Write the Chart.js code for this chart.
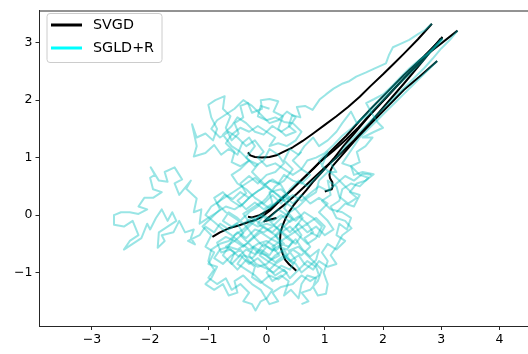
<!DOCTYPE html>
<html><head><meta charset="utf-8">
<script src="https://cdn.jsdelivr.net/npm/chart.js@4/dist/chart.umd.min.js"></script>
<style>html,body{margin:0;padding:0;background:#fff;overflow:hidden}#wrap{width:528px;height:354px;position:relative}</style>
</head><body><div id="wrap"><canvas id="c" width="528" height="354"></canvas></div>
<script>
// ---- data ----
const seriesNames = ["SVGD", "SGLD+R"];
const xTicks = [-3, -2, -1, 0, 1, 2, 3, 4];
const yTicks = [-1, 0, 1, 2, 3];

// SVGD particle trajectories
const svgdA = [[-0.32,1.09],[-0.28,1.04],[-0.2,1.01],[-0.08,1.0],[0.05,1.01],[0.17,1.04],[0.27,1.09],[0.45,1.18],[0.62,1.29],[0.8,1.42],[1.0,1.57],[1.2,1.72],[1.4,1.88],[1.6,2.06],[1.78,2.24],[2.0,2.45],[2.18,2.63],[2.36,2.81],[2.6,3.06],[2.84,3.33]];
const svgdB = [[-0.93,-0.38],[-0.8,-0.3],[-0.65,-0.23],[-0.48,-0.18],[-0.31,-0.12],[-0.18,-0.08],[-0.08,-0.03],[0.06,0.08],[0.21,0.23],[0.42,0.43],[0.62,0.63],[0.8,0.8],[0.97,0.98],[1.17,1.18],[1.37,1.38],[1.58,1.62],[1.78,1.84],[2.07,2.14],[2.36,2.44],[2.7,2.76],[3.02,3.08]];
const svgdC = [[-0.32,-0.03],[-0.25,-0.04],[-0.12,0.0],[0.04,0.09],[0.25,0.28],[0.45,0.46],[0.68,0.69],[0.91,0.92],[1.15,1.12],[1.37,1.32],[1.58,1.53],[1.78,1.75],[2.07,2.06],[2.36,2.38],[2.7,2.73],[2.99,3.07]];
const svgdD = [[0.17,-0.05],[0.05,-0.08],[-0.04,-0.11],[0.0,-0.07],[0.06,-0.02],[0.18,0.08],[0.33,0.2],[0.52,0.37],[0.74,0.58],[0.97,0.8],[1.2,1.0],[1.5,1.3],[1.78,1.61],[2.07,1.95],[2.36,2.29],[2.7,2.7],[3.02,3.1]];
const svgdE = [[0.51,-0.97],[0.46,-0.92],[0.39,-0.86],[0.32,-0.78],[0.28,-0.68],[0.24,-0.56],[0.23,-0.46],[0.24,-0.3],[0.28,-0.17],[0.33,-0.05],[0.39,0.06],[0.47,0.18],[0.56,0.29],[0.68,0.43],[0.79,0.57],[0.97,0.77],[1.15,0.98],[1.32,1.2],[1.55,1.47],[1.78,1.75],[2.1,2.1],[2.4,2.42],[2.8,2.83],[3.28,3.21]];
const svgdF = [[1.0,0.41],[1.06,0.43],[1.12,0.45],[1.14,0.51],[1.13,0.57],[1.09,0.64],[1.08,0.7],[1.1,0.78],[1.14,0.86],[1.26,1.0],[1.5,1.28],[1.78,1.58],[2.07,1.88],[2.36,2.18],[2.65,2.43],[2.93,2.68]];

// SGLD+R chains
const sgld1 = [[2.84,3.33],[2.72,3.22],[2.6,3.15],[2.45,3.05],[2.3,2.98],[2.17,2.92],[2.1,2.78],[2.05,2.64],[1.85,2.55],[1.7,2.48],[1.54,2.41],[1.42,2.33],[1.31,2.29],[1.15,2.2],[1.02,2.1],[0.91,2.01],[0.79,1.83],[0.66,1.9],[0.52,1.88],[0.58,1.7],[0.44,1.74],[0.38,1.55],[0.5,1.45],[0.33,1.38],[0.2,1.5],[0.28,1.72],[0.12,1.8],[0.2,1.98],[0.05,2.02],[-0.1,2.0],[-0.08,1.85],[-0.25,1.78],[-0.32,1.95],[-0.45,1.9],[-0.4,1.7],[-0.55,1.6],[-0.48,1.42],[-0.6,1.3],[-0.7,1.52],[-0.62,1.72],[-0.75,1.85],[-0.72,2.07],[-0.88,2.0],[-1.0,1.92],[-0.95,1.7],[-0.85,1.5],[-0.92,1.3],[-1.05,1.42],[-1.2,1.35],[-1.28,1.58],[-1.2,1.2],[-1.25,1.02],[-1.05,1.08],[-0.9,1.22],[-0.78,1.05],[-0.65,1.15],[-0.5,1.05],[-0.42,1.25],[-0.3,1.35],[-0.2,1.2],[-0.35,1.0],[-0.2,0.85],[-0.05,0.95],[0.05,1.15],[0.2,1.05],[0.3,0.9],[0.15,0.75],[0.0,0.7],[-0.15,0.55],[-0.3,0.68],[-0.45,0.55],[-0.35,0.38],[-0.5,0.25],[-0.35,0.1],[-0.2,0.22],[-0.05,0.1],[0.1,0.2],[0.05,0.4],[0.25,0.45],[0.4,0.3],[0.3,0.12],[0.45,-0.05],[0.3,-0.2],[0.15,-0.35],[0.3,-0.5],[0.15,-0.62],[0.0,-0.55],[-0.12,-0.7],[0.05,-0.82],[0.2,-0.9],[0.35,-1.0],[0.2,-1.12],[0.05,-1.05],[-0.1,-1.18],[-0.25,-1.08],[-0.2,-0.9],[-0.35,-0.78],[-0.5,-0.95],[-0.62,-0.82],[-0.55,-0.65],[-0.7,-0.55],[-0.55,-0.45],[-0.4,-0.55],[-0.25,-0.42],[-0.1,-0.3],[0.05,-0.4],[0.2,-0.48],[0.38,-0.55],[0.5,-0.42],[0.62,-0.6],[0.75,-0.72],[0.9,-0.6],[0.85,-0.78],[0.72,-0.9],[0.6,-1.0],[0.5,-0.85],[0.35,-0.75],[0.25,-0.6]];
const sgld2 = [[3.02,3.08],[2.9,2.95],[2.75,2.8],[2.6,2.68],[2.45,2.55],[2.3,2.4],[2.17,2.26],[2.0,2.1],[1.85,2.02],[1.71,1.95],[1.8,1.78],[1.91,1.61],[2.0,1.52],[1.85,1.45],[1.65,1.35],[1.82,1.35],[1.7,1.2],[1.55,1.1],[1.6,0.92],[1.45,0.85],[1.5,0.7],[1.65,0.75],[1.84,0.71],[1.7,0.6],[1.55,0.55],[1.43,0.4],[1.55,0.3],[1.4,0.2],[1.25,0.32],[1.2,0.5],[1.05,0.6],[1.1,0.35],[0.95,0.25],[1.1,0.1],[1.3,0.05],[1.45,-0.05],[1.38,-0.25],[1.25,-0.15],[1.2,-0.35],[1.35,-0.45],[1.2,-0.6],[1.05,-0.5],[0.95,-0.65],[1.05,-0.8],[0.98,-1.0],[1.05,-1.2],[1.02,-1.37],[0.88,-1.4],[0.8,-1.25],[0.85,-1.1],[0.7,-1.05],[0.6,-1.2],[0.55,-1.45],[0.42,-1.3],[0.3,-1.4],[0.38,-1.15],[0.25,-1.05],[0.1,-1.15],[0.0,-1.0],[0.15,-0.85],[0.3,-0.75],[0.45,-0.6],[0.6,-0.7],[0.75,-0.55],[0.65,-0.4],[0.8,-0.3],[0.7,-0.15],[0.55,-0.25],[0.4,-0.35],[0.25,-0.45],[0.1,-0.55],[0.22,-0.7],[0.08,-0.78],[-0.08,-0.65],[-0.22,-0.55],[-0.3,-0.7],[-0.18,-0.85],[-0.02,-0.92],[0.12,-1.0],[0.25,-0.88],[0.4,-0.95],[0.5,-0.78],[0.38,-0.62],[0.55,-0.55],[0.68,-0.68],[0.82,-0.82],[0.95,-0.95],[0.88,-1.15],[0.75,-1.3],[0.6,-1.35],[0.72,-1.5],[0.6,-1.55]];
const sgld3 = [[3.03,3.06],[2.88,2.9],[2.7,2.75],[2.55,2.6],[2.4,2.45],[2.25,2.3],[2.05,2.1],[1.88,1.95],[1.75,1.8],[1.6,1.65],[1.45,1.5],[1.3,1.38],[1.15,1.22],[1.0,1.08],[0.85,1.0],[0.7,0.95],[0.6,0.8],[0.75,0.7],[0.6,0.55],[0.45,0.6],[0.3,0.7],[0.2,0.55],[0.05,0.6],[-0.1,0.45],[-0.25,0.35],[-0.4,0.2],[-0.55,0.1],[-0.7,0.15],[-0.85,0.05],[-1.0,-0.05],[-1.15,-0.15],[-1.12,0.1],[-1.25,0.05],[-1.2,0.29],[-1.38,0.46],[-1.3,0.6],[-1.5,0.35],[-1.58,0.55],[-1.45,0.62],[-1.5,0.7],[-1.58,0.83],[-1.75,0.75],[-1.7,0.58],[-1.85,0.6],[-1.99,0.83],[-1.92,0.7],[-2.0,0.65],[-1.95,0.45],[-1.8,0.4],[-1.95,0.3],[-2.1,0.3],[-2.2,0.15],[-2.05,0.1],[-2.2,0.02],[-2.35,0.05],[-2.5,0.05],[-2.62,0.0],[-2.62,-0.17],[-2.45,-0.2],[-2.3,-0.1],[-2.2,-0.35],[-2.35,-0.45],[-2.45,-0.6],[-2.3,-0.5],[-2.15,-0.4],[-2.05,-0.15],[-2.0,-0.25],[-1.9,-0.05],[-1.8,0.1],[-1.7,-0.1],[-1.62,0.05],[-1.55,-0.1],[-1.7,-0.2],[-1.85,-0.3],[-1.87,-0.57],[-1.75,-0.45],[-1.8,-0.35],[-1.6,-0.3],[-1.5,-0.1],[-1.45,-0.2],[-1.4,-0.3],[-1.25,-0.25],[-1.3,-0.4],[-1.23,-0.51],[-1.35,-0.45],[-1.15,-0.35],[-1.05,-0.2],[-0.9,-0.3],[-0.8,-0.15],[-0.65,-0.25],[-0.5,-0.15],[-0.4,-0.32],[-0.55,-0.45],[-0.7,-0.38],[-0.85,-0.48],[-0.78,-0.65],[-0.62,-0.6],[-0.48,-0.72],[-0.35,-0.6],[-0.2,-0.68],[-0.05,-0.5],[0.1,-0.62],[0.25,-0.5],[0.15,-0.35],[0.0,-0.25],[-0.15,-0.15],[-0.05,0.0],[0.1,-0.1],[0.25,0.0],[0.4,-0.12],[0.55,-0.02],[0.7,-0.15],[0.85,-0.05],[1.0,-0.2],[0.9,-0.38],[0.75,-0.3]];
const sgld4 = [[3.28,3.21],[3.15,3.05],[3.0,2.9],[2.85,2.72],[2.7,2.55],[2.55,2.4],[2.4,2.25],[2.25,2.1],[2.1,1.95],[1.95,1.8],[1.8,1.65],[1.65,1.5],[1.5,1.35],[1.35,1.2],[1.25,1.05],[1.1,0.9],[1.2,0.75],[1.05,0.75],[0.9,0.6],[0.85,0.4],[0.7,0.3],[0.55,0.15],[0.4,0.05],[0.25,-0.05],[0.1,-0.2],[-0.05,-0.3],[-0.2,-0.25],[-0.35,-0.4],[-0.5,-0.3],[-0.65,-0.45],[-0.8,-0.5],[-0.95,-0.6],[-1.0,-0.8],[-0.9,-0.95],[-1.0,-1.09],[-0.85,-1.2],[-0.7,-1.1],[-0.6,-1.3],[-0.45,-1.2],[-0.3,-1.35],[-0.4,-1.5],[-0.25,-1.55],[-0.19,-1.66],[-0.1,-1.5],[0.0,-1.45],[0.1,-1.3],[-0.05,-1.2],[-0.2,-1.05],[-0.35,-0.95],[-0.5,-0.85],[-0.4,-0.7],[-0.25,-0.75],[-0.1,-0.6],[0.05,-0.7],[0.15,-0.55],[0.0,-0.45],[-0.15,-0.5],[-0.3,-0.6],[-0.45,-0.48],[-0.6,-0.35],[-0.75,-0.25],[-0.9,-0.12],[-1.05,0.0],[-0.95,0.15],[-0.8,0.25],[-0.65,0.35],[-0.5,0.45],[-0.35,0.55],[-0.2,0.65],[-0.05,0.52],[0.1,0.62],[0.25,0.52],[0.35,0.35],[0.2,0.25],[0.05,0.12],[-0.1,0.22],[-0.25,0.12],[-0.4,0.02],[-0.3,-0.12],[-0.15,-0.2],[0.0,-0.15],[0.15,-0.2],[0.3,-0.32],[0.45,-0.45],[0.35,-0.6],[0.2,-0.55]];
const sgld5 = [[2.93,2.68],[2.8,2.55],[2.65,2.4],[2.5,2.25],[2.35,2.1],[2.2,1.95],[2.05,1.8],[1.9,1.65],[1.75,1.5],[1.6,1.35],[1.5,1.2],[1.4,1.05],[1.3,0.9],[1.45,0.85],[1.6,0.7],[1.75,0.65],[1.6,0.5],[1.45,0.55],[1.3,0.45],[1.25,0.25],[1.1,0.15],[1.2,-0.05],[1.35,-0.1],[1.46,-0.23],[1.3,-0.35],[1.2,-0.55],[1.1,-0.7],[1.2,-0.85],[1.05,-0.9],[0.9,-0.8],[0.8,-0.95],[0.65,-0.85],[0.55,-0.7],[0.4,-0.8],[0.3,-0.6],[0.15,-0.7],[0.0,-0.85],[-0.15,-0.9],[-0.3,-0.8],[-0.45,-0.6],[-0.6,-0.7],[-0.75,-0.85],[-0.9,-0.75],[-0.8,-0.6],[-0.65,-0.55],[-0.55,-0.35],[-0.4,-0.25],[-0.25,-0.1],[-0.1,0.0],[0.05,-0.1],[0.2,-0.25],[0.35,-0.4],[0.5,-0.5],[0.6,-0.35],[0.5,-0.2],[0.62,-0.05],[0.5,0.1],[0.35,0.2],[0.2,0.35],[0.05,0.45],[-0.1,0.6],[-0.25,0.75],[-0.15,0.88],[-0.3,0.95],[-0.45,0.85],[-0.6,0.92],[-0.55,1.1],[-0.7,1.25],[-0.6,1.4],[-0.45,1.52],[-0.3,1.45],[-0.15,1.55],[0.0,1.45],[0.15,1.35],[0.05,1.2],[0.2,1.25],[0.35,1.2],[0.5,1.3],[0.6,1.45],[0.45,1.6],[0.3,1.62],[0.15,1.7],[0.0,1.65],[-0.15,1.72],[-0.1,1.9],[0.05,1.85]];
const sgld6 = [[3.0,3.05],[2.85,2.88],[2.7,2.7],[2.55,2.55],[2.35,2.35],[2.2,2.2],[2.05,2.05],[1.9,1.9],[1.75,1.75],[1.55,1.6],[1.45,1.8],[1.3,1.6],[1.2,1.45],[1.05,1.3],[0.9,1.2],[0.8,1.35],[0.65,1.2],[0.55,1.05],[0.4,1.15],[0.3,0.95],[0.45,0.8],[0.3,0.6],[0.15,0.5],[0.0,0.3],[-0.15,0.15],[-0.3,0.05],[-0.45,-0.1],[-0.6,-0.2],[-0.75,-0.1],[-0.65,0.05],[-0.5,-0.05],[-0.35,-0.2],[-0.2,-0.4],[-0.05,-0.55],[0.1,-0.4],[0.25,-0.3],[0.4,-0.2],[0.55,-0.35],[0.7,-0.5],[0.85,-0.4],[0.95,-0.2],[0.8,-0.05],[0.65,0.05],[0.5,-0.1],[0.35,0.0],[0.2,0.1],[0.05,-0.05],[-0.1,-0.15],[-0.25,-0.05],[-0.4,-0.15],[-0.55,-0.05],[-0.7,0.05],[-0.85,0.2],[-0.72,0.35],[-0.58,0.28],[-0.45,0.4],[-0.3,0.3],[-0.15,0.42],[0.0,0.5],[0.15,0.38],[0.3,0.25],[0.45,0.35],[0.6,0.25],[0.75,0.38],[0.9,0.5],[1.05,0.42],[1.2,0.55],[1.35,0.68],[1.5,0.6],[1.65,0.72],[1.8,0.7]];
const sgld7 = [[-0.3,0.3],[-0.45,0.15],[-0.6,0.25],[-0.75,0.4],[-0.9,0.3],[-0.8,0.1],[-0.95,-0.05],[-1.1,-0.2],[-0.95,-0.35],[-1.05,-0.55],[-0.9,-0.65],[-1.0,-0.85],[-0.85,-0.9],[-0.95,-1.1],[-1.05,-1.2],[-0.9,-1.3],[-0.75,-1.2],[-0.65,-1.4],[-0.5,-1.35],[-0.55,-1.15],[-0.4,-1.05],[-0.25,-1.2],[-0.1,-1.3],[0.05,-1.55],[0.2,-1.5],[0.1,-1.35],[0.25,-1.25],[0.45,-1.2],[0.6,-1.05],[0.75,-1.15],[0.9,-1.05],[0.85,-0.9],[0.7,-0.8],[0.55,-0.95],[0.4,-1.1],[0.3,-0.95],[0.15,-1.05],[0.0,-0.9],[-0.15,-0.75],[-0.3,-0.85],[-0.45,-0.7],[-0.6,-0.85],[-0.75,-0.7],[-0.65,-0.55],[-0.5,-0.6],[-0.35,-0.5],[-0.2,-0.35],[-0.05,-0.2],[0.1,-0.3],[0.25,-0.15],[0.4,-0.3],[0.55,-0.15],[0.7,-0.3],[0.85,-0.2],[1.0,-0.35],[1.15,-0.25],[1.05,-0.1],[0.9,0.05],[1.05,0.2],[0.9,0.3],[0.75,0.2],[0.6,0.35],[0.45,0.2],[0.3,0.35],[0.15,0.2],[0.0,0.1],[-0.15,-0.05],[-0.3,-0.2],[-0.45,-0.35],[-0.3,-0.5],[-0.15,-0.65],[0.0,-0.7],[0.15,-0.82],[0.3,-0.7],[0.45,-0.85]];
const sgld8 = [[0.6,1.1],[0.45,0.95],[0.6,0.8],[0.45,0.7],[0.3,0.8],[0.15,0.9],[0.0,0.85],[-0.15,1.0],[-0.05,1.1],[-0.2,1.3],[-0.35,1.2],[-0.5,1.35],[-0.65,1.45],[-0.8,1.35],[-0.95,1.5],[-0.85,1.65],[-0.7,1.75],[-0.55,1.85],[-0.4,2.0],[-0.25,1.9],[-0.1,1.75],[0.05,1.6],[0.2,1.65],[0.35,1.8],[0.5,1.7],[0.4,1.55],[0.25,1.45],[0.1,1.55],[-0.05,1.4],[-0.2,1.45],[-0.35,1.6],[-0.5,1.7],[-0.6,1.55],[-0.75,1.4],[-0.6,1.2],[-0.45,1.1],[-0.3,0.95],[-0.45,0.8],[-0.6,0.7],[-0.5,0.55],[-0.35,0.45],[-0.2,0.3],[-0.05,0.2],[0.1,0.35],[0.25,0.2],[0.4,0.45],[0.55,0.6],[0.7,0.5],[0.85,0.65],[1.0,0.8],[0.9,0.95],[1.05,1.1],[0.95,0.85],[1.15,0.7],[1.3,0.55],[1.45,0.4],[1.6,0.35],[1.5,0.15],[1.35,0.2],[1.2,0.05]];

const svgdPaths = [svgdA, svgdB, svgdC, svgdD, svgdE, svgdF];
const sgldPaths = [sgld1, sgld2, sgld3, sgld4, sgld5, sgld6, sgld7, sgld8];

// ---- chart ----
const toXY = p => p.map(([x, y]) => ({x, y}));
const datasets = [];
sgldPaths.forEach(p => datasets.push({label: seriesNames[1], data: toXY(p), showLine: true, pointRadius: 0,
  borderColor: 'rgba(0,191,191,0.4)', borderWidth: 2, borderJoinStyle: 'round', order: 0}));
svgdPaths.forEach(p => datasets.push({label: seriesNames[0], data: toXY(p), showLine: true, pointRadius: 0,
  borderColor: '#000', borderWidth: 2, borderJoinStyle: 'round', order: 1}));

const FONT = 'DejaVu Sans';
const frame = {
  id: 'frame',
  afterDraw(chart) {
    const {ctx, chartArea: a} = chart;
    ctx.save();
    ctx.strokeStyle = '#262626'; ctx.lineWidth = 1;
    ctx.beginPath(); ctx.moveTo(a.left, a.top + 0.5); ctx.lineTo(a.right, a.top + 0.5); ctx.stroke();
    // legend
    const bx = 47, by = 13.5, bw = 115, bh = 49;
    ctx.fillStyle = 'rgba(255,255,255,0.8)';
    ctx.strokeStyle = '#cccccc';
    ctx.beginPath();
    ctx.roundRect(bx, by, bw, bh, 3);
    ctx.fill(); ctx.stroke();
    const items = [{t: seriesNames[0], c: '#000'}, {t: seriesNames[1], c: '#00ffff'}];
    items.forEach((it, i) => {
      const y = 25 + i * 23;
      ctx.strokeStyle = it.c; ctx.lineWidth = 3;
      ctx.beginPath(); ctx.moveTo(51, y); ctx.lineTo(82, y); ctx.stroke();
      ctx.fillStyle = '#000'; ctx.font = '14.3px "' + FONT + '"';
      ctx.textBaseline = 'middle'; ctx.textAlign = 'left';
      ctx.fillText(it.t, 93, y + 0.5);
    });
    ctx.restore();
  }
};

new Chart(document.getElementById('c'), {
  type: 'scatter',
  data: {datasets},
  options: {
    responsive: false, animation: false, devicePixelRatio: 1,
    layout: {padding: {top: 6, right: 0, left: 0, bottom: 0}},
    plugins: {legend: {display: false}, tooltip: {enabled: false}},
    elements: {line: {tension: 0}},
    scales: {
      x: {type: 'linear', min: -3.9, max: 4.49,
        afterBuildTicks: s => { s.ticks = xTicks.map(v => ({value: v})); },
        afterFit: s => { s.height = 28; },
        grid: {drawOnChartArea: false, drawTicks: true, tickLength: 4, tickColor: '#262626'},
        border: {color: '#262626', width: 1},
        ticks: {color: '#000', font: {family: FONT, size: 12.5}, padding: 2, maxRotation: 0,
          callback: v => (v < 0 ? '\u2212' + Math.abs(v) : '' + v)}
      },
      y: {type: 'linear', min: -1.93, max: 3.56,
        afterBuildTicks: s => { s.ticks = yTicks.map(v => ({value: v})); },
        afterFit: s => { s.width = 39.5; },
        grid: {drawOnChartArea: false, drawTicks: true, tickLength: 4, tickColor: '#262626'},
        border: {color: '#262626', width: 1},
        ticks: {color: '#000', font: {family: FONT, size: 12.5}, padding: 3,
          callback: v => (v < 0 ? '\u2212' + Math.abs(v) : '' + v)}
      }
    }
  },
  plugins: [frame]
});
</script></body></html>
